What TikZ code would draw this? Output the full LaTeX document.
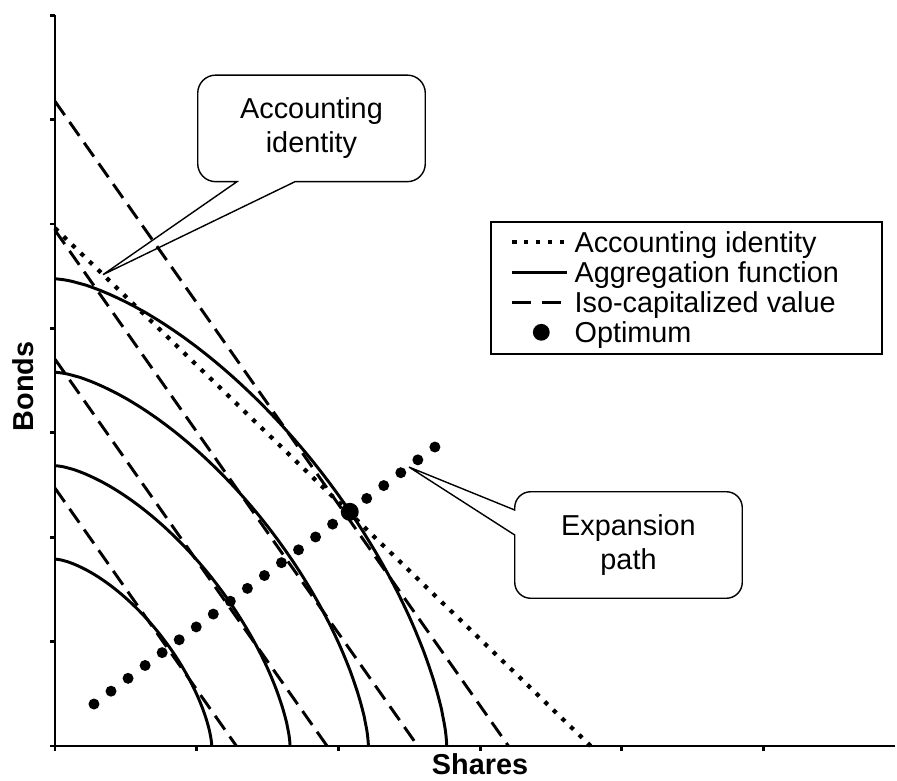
\documentclass[tikz,border=0pt]{standalone}
\usepackage{fontspec}
\setmainfont{Liberation Sans}
\usepackage{tikz}

\tikzset{
  axisline/.style={line width=2.1pt},
  aggline/.style={line width=2.1pt},
  isoline/.style={line width=2.1pt, dash pattern=on 12pt off 6pt},
  accline/.style={line width=3pt, dash pattern=on 3pt off 5.5pt},
  callout/.style={line width=1pt},
  callnode/.style={inner sep=0pt, align=center, minimum width=5.675cm, minimum height=2.65cm},
  legtext/.style={anchor=base west, inner sep=0pt},
}

\begin{document}
\begin{tikzpicture}[font=\fontsize{20.5pt}{24pt}\selectfont]
  \useasboundingbox (0,0) rectangle (22.425,19.5);

  % Plot area, data units
  \begin{scope}[shift={(1.375,0.85)}, x=3.5425cm, y=2.61cm]
    % Axes and ticks
    \draw[axisline] (0,7) -- (0,0) -- (5.93,0);
    \foreach \i in {0,...,7} \draw[axisline] (0,\i) -- ++(-0.12cm,0);
    \foreach \i in {0,...,5} \draw[axisline] (\i,0) -- ++(0,-0.12cm);

    % Iso-capitalized value
    \foreach \k in {2,...,5}
      \draw[isoline] (0,{1.235*\k}) -- ({0.64*\k},0);

    % Aggregation function
    \foreach \k in {2,...,5}
      \draw[aggline] plot[domain=0.1:89.9, samples=90, variable=\t]
        ({0.553*\k*cos(\t)^1.316}, {0.895*\k*sin(\t)^1.316});

    % Accounting identity
    \draw[accline] (0,4.96) -- (3.78,0);

    % Expansion path
    \foreach \i in {0,...,20}
      \fill ({0.275+0.1203*\i}, {0.402+0.1231*\i}) circle (0.1375cm);

    % Optimum
    \coordinate (opt) at (2.08,2.243);
    \fill (opt) circle (0.225cm);

    % Callout tips
    \coordinate (acctip) at (0.339,4.515);
    \coordinate (exptip) at (2.498,2.672);
  \end{scope}

  % Axis titles
  \node[font=\fontsize{20.5pt}{24pt}\bfseries\selectfont, rotate=90, anchor=base] (bonds) at (0.825,9.84) {Bonds};
  \node[font=\fontsize{20.5pt}{24pt}\bfseries\selectfont, anchor=base] (shares) at (12.0,0.14) {Shares};

  % Callouts
  \node[callnode] (acc) at (7.7875,16.29) {Accounting\\identity};
  \draw[callout] (acctip) -- ([xshift=-0.4125cm]acc.south) [rounded corners=0.45cm]
    -- (acc.south east) -- (acc.north east) -- (acc.north west) -- (acc.south west)
    [sharp corners] -- ([xshift=-1.8625cm]acc.south) -- cycle;

  \node[callnode] (exp) at (15.7125,5.875) {Expansion\\path};
  \draw[callout] (exptip) -- ([yshift=0.25cm]exp.west) [rounded corners=0.4cm]
    -- (exp.south west) -- (exp.south east) -- (exp.north east) -- (exp.north west)
    [sharp corners] -- ([yshift=0.875cm]exp.west) -- cycle;

  % Legend
  \node[draw, line width=1pt, minimum width=9.775cm, minimum height=3.3cm] (legend) at (17.1625,12.3) {};
  \draw[accline] ([xshift=0.55cm, yshift=-0.525cm]legend.north west) -- ++(1.375,0);
  \node[legtext] (leg1) at ([xshift=2.1cm, yshift=-0.785cm]legend.north west) {Accounting identity};
  \draw[aggline] ([xshift=0.55cm, yshift=-1.275cm]legend.north west) -- ++(1.375,0);
  \node[legtext] (leg2) at ([xshift=2.1cm, yshift=-1.535cm]legend.north west) {Aggregation function};
  \draw[line width=2.1pt, dash pattern=on 0.475cm off 0.275cm] ([xshift=0.55cm, yshift=-2.025cm]legend.north west) -- ++(1.375,0);
  \node[legtext] (leg3) at ([xshift=2.1cm, yshift=-2.285cm]legend.north west) {Iso-capitalized value};
  \fill ([xshift=1.275cm, yshift=-2.775cm]legend.north west) circle (0.21cm);
  \node[legtext] (leg4) at ([xshift=2.1cm, yshift=-3.035cm]legend.north west) {Optimum};
\end{tikzpicture}
\end{document}
